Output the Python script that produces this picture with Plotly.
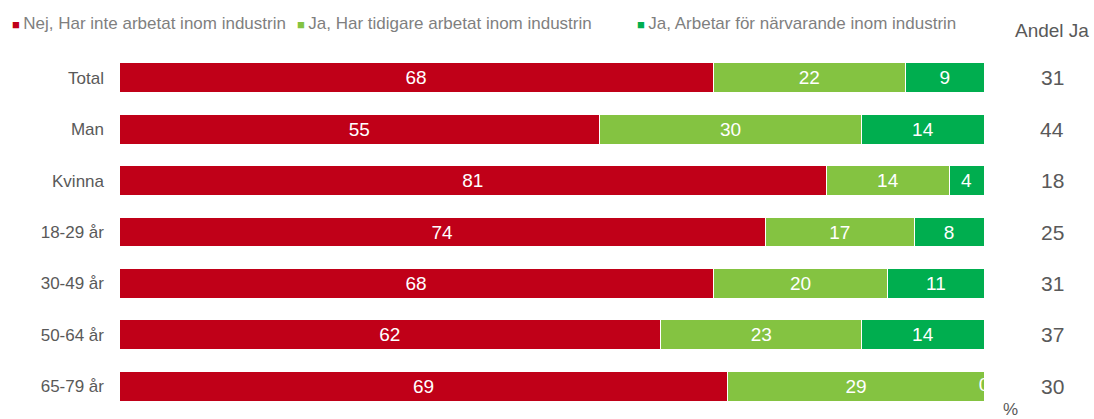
import plotly.graph_objects as go

categories = ["Total", "Man", "Kvinna", "18-29 år", "30-49 år", "50-64 år", "65-79 år"]
series_names = [
    "Nej, Har inte arbetat inom industrin",
    "Ja, Har tidigare arbetat inom industrin",
    "Ja, Arbetar för närvarande inom industrin",
]
# bar lengths
nej = [68, 55, 81, 74, 68, 62, 69.7]
tidigare = [22, 30, 14, 17, 20, 23, 29.3]
nu = [9, 14, 4, 8, 11, 14, 0]
# printed labels
nej_lbl = ["68", "55", "81", "74", "68", "62", "69"]
tidigare_lbl = ["22", "30", "14", "17", "20", "23", "29"]
nu_lbl = ["9", "14", "4", "8", "11", "14", ""]
andel_ja = [31, 44, 18, 25, 31, 37, 30]
colors = ["#C00018", "#84C341", "#00AE4F"]

FONT = "Liberation Sans, Arial, sans-serif"
GRAY = "#595959"

fig = go.Figure()
for name, vals, lbls, col in zip(series_names, [nej, tidigare, nu],
                                 [nej_lbl, tidigare_lbl, nu_lbl], colors):
    fig.add_trace(go.Bar(
        y=categories, x=vals, name=name, orientation="h",
        marker=dict(color=col, line=dict(color="white", width=1)),
        text=lbls, textposition="inside", insidetextanchor="middle",
        textangle=0, constraintext="none",
        textfont=dict(color="white", size=19, family=FONT),
        showlegend=False, hoverinfo="x+y+name",
    ))

# the "0" label of the empty last segment, clipped at the plot edge
xmax = sum([nej[0], tidigare[0], nu[0]])
fig.add_trace(go.Scatter(
    y=[categories[-1]], x=[nej[-1] + tidigare[-1] + nu[-1]],
    mode="text", text=["0"], textposition="middle center",
    textfont=dict(color="white", size=19, family=FONT),
    cliponaxis=True, showlegend=False, hoverinfo="skip",
))

L, R, T, B = 119, 110, 52, 7
W, H = 1094, 419
pw = W - L - R
ph = H - T - B

def px_x(px):
    return (px - L) / pw

def px_y(py):
    return 1 - (py - T) / ph

annotations = []
# legend built as text
legend_x = [10, 295, 635]
for name, col, lx in zip(series_names, colors, legend_x):
    annotations.append(dict(
        xref="paper", yref="paper", x=px_x(lx), y=px_y(23),
        xanchor="left", yanchor="middle", showarrow=False,
        text=f"<span style='color:{col};font-size:13px'>■</span>\u2009{name}",
        font=dict(size=17, color="#7F7F7F", family=FONT),
    ))
annotations.append(dict(
    xref="paper", yref="paper", x=px_x(1052), y=px_y(30),
    xanchor="center", yanchor="middle", showarrow=False,
    text="Andel Ja", font=dict(size=19, color=GRAY, family=FONT),
))
for cat, v in zip(categories, andel_ja):
    annotations.append(dict(
        xref="paper", yref="y", x=px_x(1052), y=cat,
        xanchor="center", yanchor="middle", showarrow=False,
        text=str(v), font=dict(size=21, color=GRAY, family=FONT),
    ))
annotations.append(dict(
    xref="paper", yref="paper", x=px_x(1010), y=px_y(398),
    xanchor="center", yanchor="top", showarrow=False,
    text="%", font=dict(size=17, color=GRAY, family=FONT),
))

fig.update_layout(
    width=W, height=H,
    margin=dict(l=L, r=R, t=T, b=B),
    barmode="stack", bargap=0.42,
    plot_bgcolor="white", paper_bgcolor="white",
    font=dict(family=FONT, color=GRAY),
    xaxis=dict(range=[0, xmax], visible=False, showgrid=False, zeroline=False, fixedrange=True),
    yaxis=dict(autorange="reversed", showgrid=False, zeroline=False, showline=False,
               ticks="", ticklabelstandoff=14, tickfont=dict(size=17, color=GRAY, family=FONT)),
    annotations=annotations,
    showlegend=False,
)

fig.write_html("out.html", config={"displayModeBar": False},
               post_script="document.body.style.margin='0';document.body.style.overflow='hidden';")
